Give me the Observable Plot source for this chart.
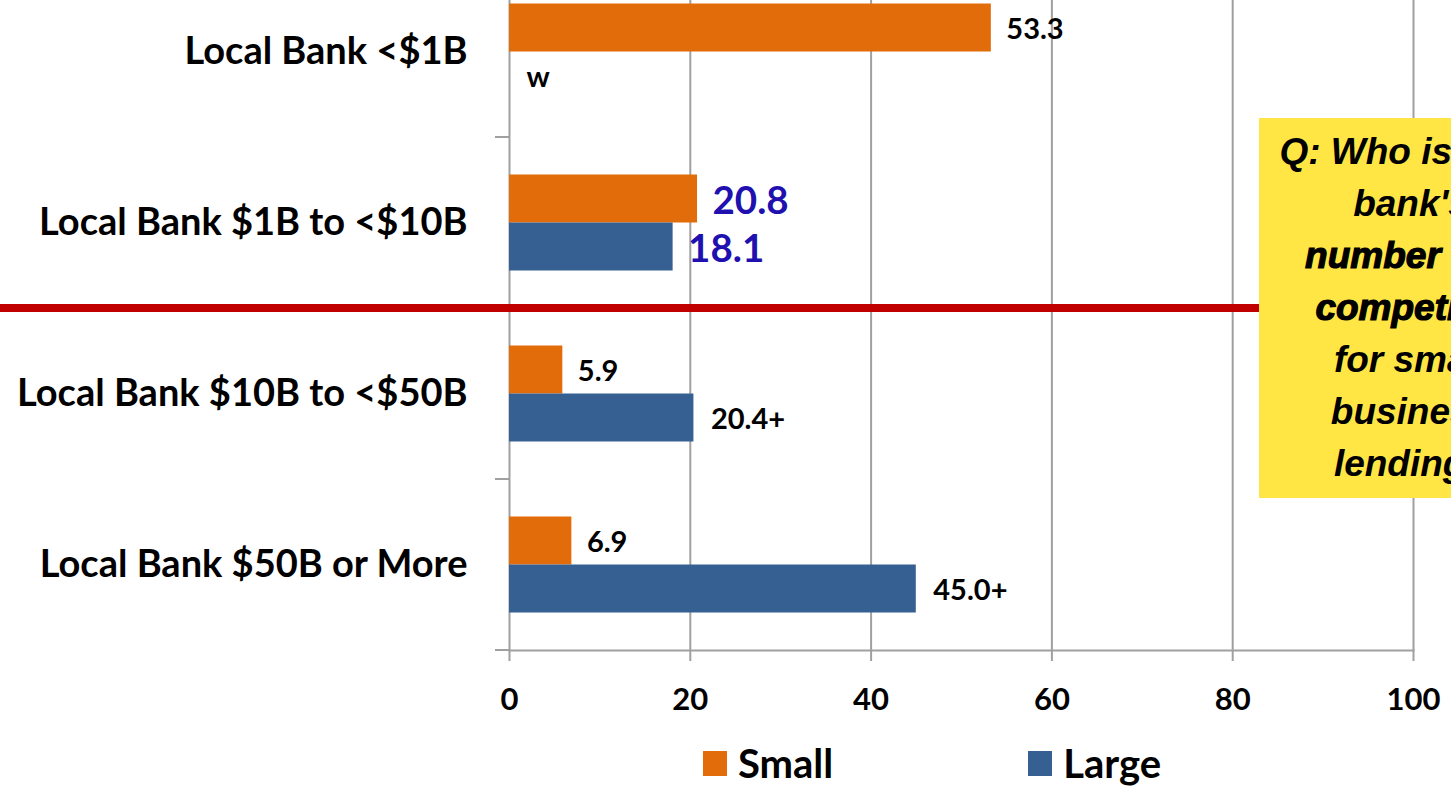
<!DOCTYPE html>
<html>
<head>
<meta charset="utf-8">
<script src="https://cdn.jsdelivr.net/npm/d3@7"></script>
<script src="https://cdn.jsdelivr.net/npm/@observablehq/plot@0.6"></script>
<style>
  html, body { margin: 0; padding: 0; background: #fff; overflow: hidden; width: 1451px; height: 786px; }
  #wrap { position: relative; width: 1451px; height: 786px; overflow: hidden; }
  #chart svg { display: block; }
  #callout {
    position: absolute; left: 1259px; top: 118px; width: 304px; height: 380px;
    background: #FFE645; display: flex; align-items: center; justify-content: center;
    text-align: center; font-family: "Liberation Sans", Arial, sans-serif; font-style: italic;
    font-weight: bold; font-size: 37px; line-height: 52px; color: #000;
  }
  #callout .heavy { -webkit-text-stroke: 1.2px #000; }
  #legend { position: absolute; left: 703px; top: 739px; display: flex; gap: 195px; font-family: Lato, sans-serif; font-weight: bold; font-size: 40px; }
  .item { display: flex; align-items: center; gap: 11px; }
  .sw { width: 24px; height: 25px; }
</style>
</head>
<body>
<div id="wrap">
  <div id="chart"></div>
  <div id="callout"><div>Q: Who is your<br>bank's<br><span class="heavy">number one<br>competitor</span><br>for small<br>business<br>lending?</div></div>
  <div id="legend"></div>
</div>
<script>
const categories = ["Local Bank <$1B", "Local Bank $1B to <$10B", "Local Bank $10B to <$50B", "Local Bank $50B or More"];
const seriesNames = ["Small", "Large"];
const smallValues = [53.3, 20.8, 5.9, 6.9];
const largeValues = [null, 18.1, 20.4, 45.0];
const smallLabels = ["53.3", "20.8", "5.9", "6.9"];
const largeLabels = ["w", "18.1", "20.4+", "45.0+"];
const highlighted = [false, true, false, false];
const xTicks = [0, 20, 40, 60, 80, 100];
const colors = ["#E36C0A", "#376092"];

const data = [];
categories.forEach((c, i) => {
  data.push({category: c, series: "Small", value: smallValues[i], label: smallLabels[i], hi: highlighted[i]});
  data.push({category: c, series: "Large", value: largeValues[i], label: largeLabels[i], hi: highlighted[i]});
});

const BAND_INSET_NEAR = 37.5, BAND_INSET_FAR = 85.5;

const plot = Plot.plot({
  width: 1451,
  height: 730,
  marginLeft: 509,
  marginRight: 38,
  marginTop: 0,
  marginBottom: 80,
  style: {fontFamily: "Lato, sans-serif", color: "#000", background: "transparent"},
  x: {domain: [0, 100], ticks: xTicks, label: null},
  y: {type: "band", domain: categories, range: [-34, 650], padding: 0, label: null},
  color: {domain: seriesNames, range: colors},
  marks: [
    Plot.gridX(xTicks.filter(d => d > 0), {stroke: "#a0a0a0", strokeOpacity: 1, strokeWidth: 2}),
    Plot.ruleX([0], {stroke: "#a0a0a0", strokeWidth: 2}),
    Plot.frame({anchor: "bottom", stroke: "#a0a0a0", strokeWidth: 2}),
    Plot.barX(data.filter(d => d.series === "Small" && d.value != null), {
      x: "value", y: "category", fill: "series", insetTop: BAND_INSET_NEAR, insetBottom: BAND_INSET_FAR
    }),
    Plot.barX(data.filter(d => d.series === "Large" && d.value != null), {
      x: "value", y: "category", fill: "series", insetTop: BAND_INSET_FAR, insetBottom: BAND_INSET_NEAR
    }),
    Plot.text(data.filter(d => !d.hi && d.series === "Small"), {
      x: d => d.value ?? 0, y: "category", text: "label", dy: -22,
      textAnchor: "start", dx: 15, fontSize: 29, fontWeight: "bold", fill: "#000"
    }),
    Plot.text(data.filter(d => !d.hi && d.series === "Large"), {
      x: d => d.value ?? 0, y: "category", text: "label", dy: 26,
      textAnchor: "start", dx: 17, fontSize: 29, fontWeight: "bold", fill: "#000"
    }),
    Plot.text(data.filter(d => d.hi && d.series === "Small"), {
      x: "value", y: "category", text: "label", dy: -21,
      textAnchor: "start", dx: 15, fontSize: 38.5, fontWeight: "bold", fill: "#2010B0"
    }),
    Plot.text(data.filter(d => d.hi && d.series === "Large"), {
      x: "value", y: "category", text: "label", dy: 27,
      textAnchor: "start", dx: 15, fontSize: 38.5, fontWeight: "bold", fill: "#2010B0"
    }),
    Plot.axisX({ticks: xTicks, label: null, tickSize: 11, tickPadding: 26, stroke: "#a0a0a0", strokeWidth: 2, fontSize: 31, fontWeight: "bold", fill: "#000"}),
    Plot.axisY({label: null, tickSize: 0, tickPadding: 42, fontSize: 38, fontWeight: "bold", fill: "#000"})
  ]
});
document.getElementById("chart").appendChild(plot);

// category boundary ticks and the red separator, positioned with the plot's own scales
const ys = plot.scale("y"), xs = plot.scale("x");
const step = ys.step ?? ys.bandwidth ?? (ys.range[1] - ys.range[0]) / categories.length;
const svg = d3.select(plot);
const x0 = xs.apply(0);
const bounds = [ys.apply(categories[0]), ...categories.map(c => ys.apply(c) + step)];
svg.append("g").selectAll("line").data(bounds).join("line")
  .attr("x1", x0 - 14).attr("x2", x0).attr("y1", d => d).attr("y2", d => d)
  .attr("stroke", "#a0a0a0").attr("stroke-width", 2);
const sepY = ys.apply(categories[2]);
svg.append("line").attr("x1", 0).attr("x2", 1451).attr("y1", sepY).attr("y2", sepY)
  .attr("stroke", "#C00000").attr("stroke-width", 8);

// legend
const legend = d3.select("#legend");
seriesNames.forEach((s, i) => {
  const it = legend.append("div").attr("class", "item");
  it.append("div").attr("class", "sw").style("background", colors[i]);
  it.append("span").text(s);
});
</script>
</body>
</html>
